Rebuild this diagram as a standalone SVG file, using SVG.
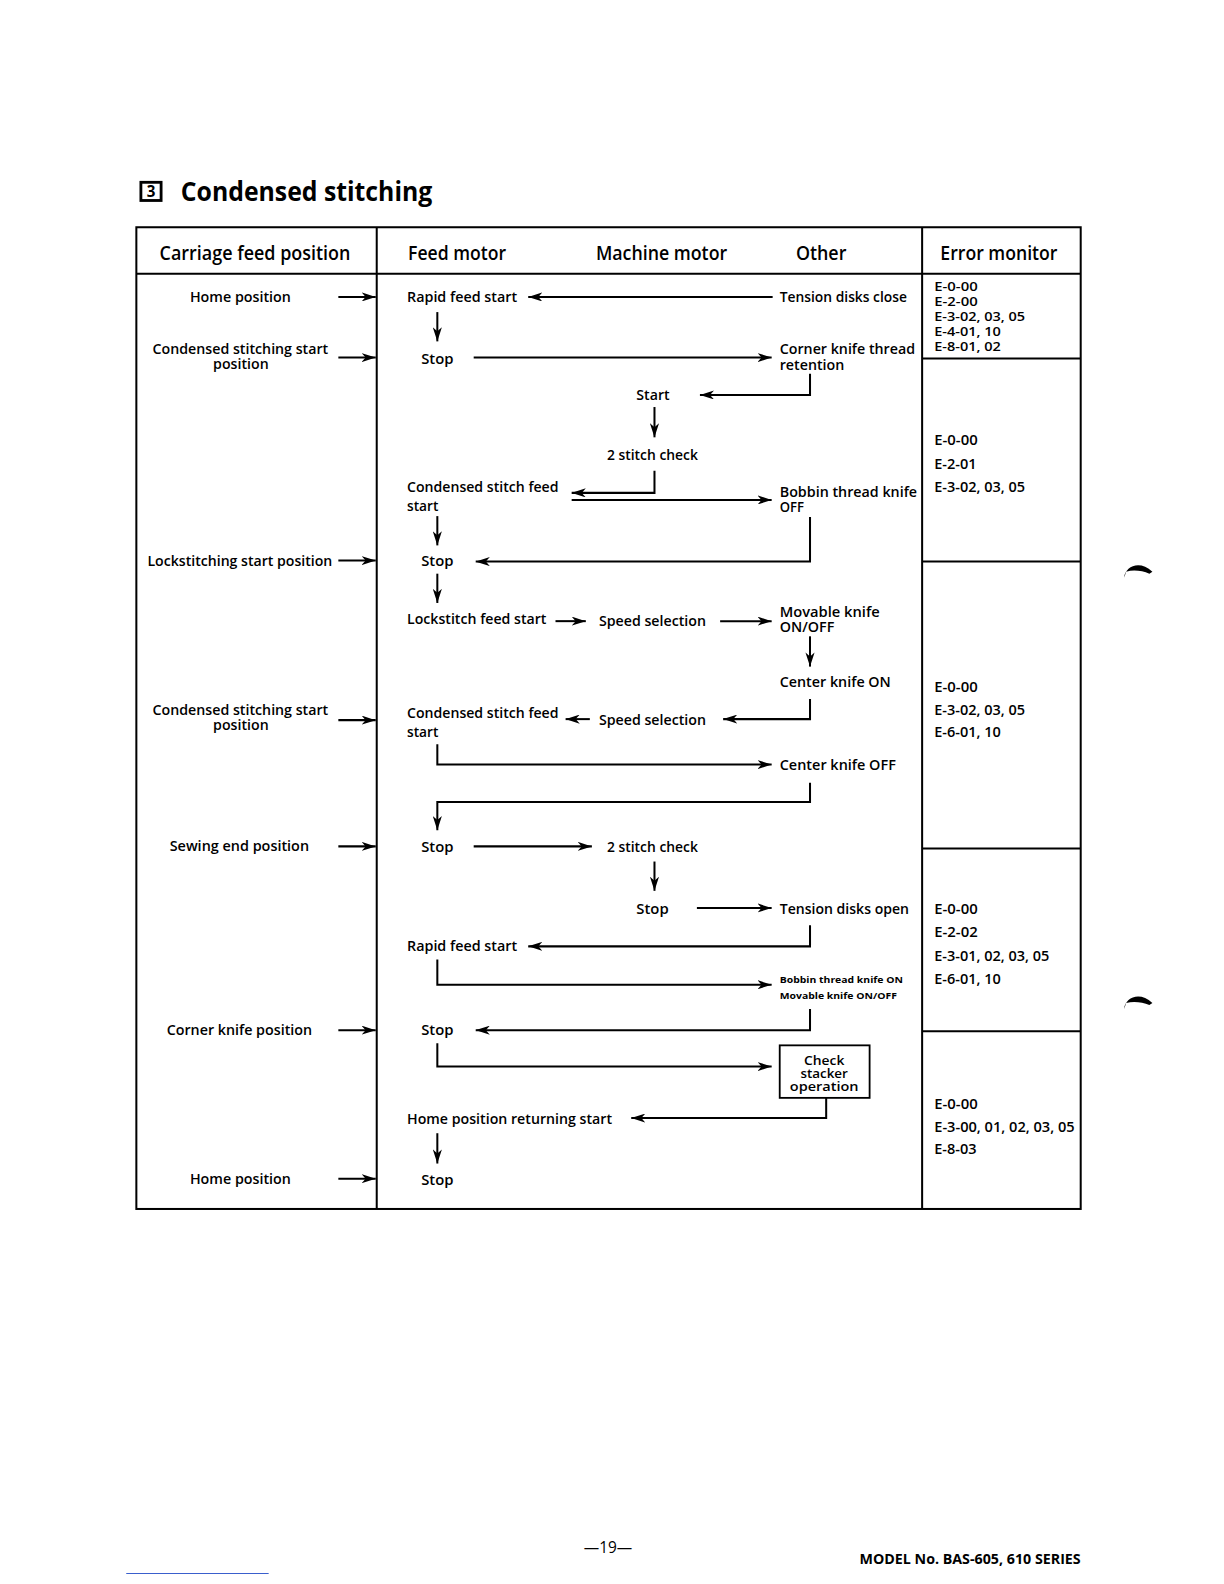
<svg xmlns="http://www.w3.org/2000/svg" width="1224" height="1584" viewBox="0 0 1224 1584">
<style>
text{font-family:"Open Sans","Liberation Sans",sans-serif;font-weight:600;fill:#000}
.h{font-size:19px}
.b{font-size:15px}
.m{font-size:13.5px}
.e{font-size:14px}
.e1{font-size:12.5px}
.k{font-size:12px}
.s{font-size:9.5px;font-weight:700}
.t{font-size:26px;font-weight:700}
.a{stroke:#000;stroke-width:2;fill:none;marker-end:url(#ah)}
.frame{stroke:#000;stroke-width:2;fill:none}
</style>
<defs>
<marker id="ah" viewBox="0 0 14 9" refX="14" refY="4.5" markerWidth="14" markerHeight="9" markerUnits="userSpaceOnUse" orient="auto"><path d="M0,0 L14,4.5 L0,9 L4,4.5 z" fill="#000"/></marker>
</defs>
<rect width="1224" height="1584" fill="#fff"/>
<g transform="scale(1.01)">
<g id="title">
<rect x="139.5" y="180.5" width="20" height="18" fill="none" stroke="#000" stroke-width="2.8"/>
<text x="149.5" y="195.5" text-anchor="middle" style="font-size:15px;font-weight:700">3</text>
<text class="t" x="179" y="199" textLength="249" lengthAdjust="spacingAndGlyphs">Condensed stitching</text>
</g>
<g id="table">
<rect class="frame" x="135" y="225" width="935" height="972"/>
<line class="frame" x1="135" y1="271" x2="1070" y2="271"/>
<line class="frame" x1="373" y1="225" x2="373" y2="1197"/>
<line class="frame" x1="913" y1="225" x2="913" y2="1197"/>
<line class="frame" x1="913" y1="355" x2="1070" y2="355"/>
<line class="frame" x1="913" y1="556" x2="1070" y2="556"/>
<line class="frame" x1="913" y1="840" x2="1070" y2="840"/>
<line class="frame" x1="913" y1="1021" x2="1070" y2="1021"/>
<text class="h" x="158" y="257" textLength="189" lengthAdjust="spacingAndGlyphs">Carriage feed position</text>
<text class="h" x="404" y="257" textLength="97" lengthAdjust="spacingAndGlyphs">Feed motor</text>
<text class="h" x="590" y="257" textLength="130" lengthAdjust="spacingAndGlyphs">Machine motor</text>
<text class="h" x="788" y="257" textLength="50" lengthAdjust="spacingAndGlyphs">Other</text>
<text class="h" x="931" y="257" textLength="116" lengthAdjust="spacingAndGlyphs">Error monitor</text>
</g>
<g id="carriage">
<text class="b" x="188" y="299" textLength="100" lengthAdjust="spacingAndGlyphs">Home position</text>
<text class="m" x="151" y="350" textLength="174" lengthAdjust="spacingAndGlyphs">Condensed stitching start</text>
<text class="m" x="211" y="365" textLength="55" lengthAdjust="spacingAndGlyphs">position</text>
<text class="b" x="146" y="560" textLength="183" lengthAdjust="spacingAndGlyphs">Lockstitching start position</text>
<text class="m" x="151" y="708" textLength="174" lengthAdjust="spacingAndGlyphs">Condensed stitching start</text>
<text class="m" x="211" y="723" textLength="55" lengthAdjust="spacingAndGlyphs">position</text>
<text class="b" x="168" y="843" textLength="138" lengthAdjust="spacingAndGlyphs">Sewing end position</text>
<text class="b" x="165" y="1025" textLength="144" lengthAdjust="spacingAndGlyphs">Corner knife position</text>
<text class="b" x="188" y="1172" textLength="100" lengthAdjust="spacingAndGlyphs">Home position</text>
</g>
<g id="flow">
<text class="b" x="403" y="299" textLength="109" lengthAdjust="spacingAndGlyphs">Rapid feed start</text>
<text class="b" x="772" y="299" textLength="126" lengthAdjust="spacingAndGlyphs">Tension disks close</text>
<text class="b" x="417" y="360" textLength="32" lengthAdjust="spacingAndGlyphs">Stop</text>
<text class="m" x="772" y="350" textLength="134" lengthAdjust="spacingAndGlyphs">Corner knife thread</text>
<text class="m" x="772" y="366" textLength="64" lengthAdjust="spacingAndGlyphs">retention</text>
<text class="b" x="630" y="396" textLength="33" lengthAdjust="spacingAndGlyphs">Start</text>
<text class="b" x="601" y="455" textLength="90" lengthAdjust="spacingAndGlyphs">2 stitch check</text>
<text class="b" x="403" y="487" textLength="150" lengthAdjust="spacingAndGlyphs">Condensed stitch feed</text>
<text class="b" x="403" y="506" textLength="31" lengthAdjust="spacingAndGlyphs">start</text>
<text class="m" x="772" y="492" textLength="136" lengthAdjust="spacingAndGlyphs">Bobbin thread knife</text>
<text class="m" x="772" y="507" textLength="24" lengthAdjust="spacingAndGlyphs">OFF</text>
<text class="b" x="417" y="560" textLength="32" lengthAdjust="spacingAndGlyphs">Stop</text>
<text class="b" x="403" y="618" textLength="138" lengthAdjust="spacingAndGlyphs">Lockstitch feed start</text>
<text class="b" x="593" y="620" textLength="106" lengthAdjust="spacingAndGlyphs">Speed selection</text>
<text class="m" x="772" y="611" textLength="99" lengthAdjust="spacingAndGlyphs">Movable knife</text>
<text class="m" x="772" y="626" textLength="54" lengthAdjust="spacingAndGlyphs">ON/OFF</text>
<text class="b" x="772" y="680" textLength="110" lengthAdjust="spacingAndGlyphs">Center knife ON</text>
<text class="b" x="403" y="711" textLength="150" lengthAdjust="spacingAndGlyphs">Condensed stitch feed</text>
<text class="b" x="403" y="730" textLength="31" lengthAdjust="spacingAndGlyphs">start</text>
<text class="b" x="593" y="718" textLength="106" lengthAdjust="spacingAndGlyphs">Speed selection</text>
<text class="b" x="772" y="762" textLength="115" lengthAdjust="spacingAndGlyphs">Center knife OFF</text>
<text class="b" x="417" y="844" textLength="32" lengthAdjust="spacingAndGlyphs">Stop</text>
<text class="b" x="601" y="844" textLength="90" lengthAdjust="spacingAndGlyphs">2 stitch check</text>
<text class="b" x="630" y="905" textLength="32" lengthAdjust="spacingAndGlyphs">Stop</text>
<text class="b" x="772" y="905" textLength="128" lengthAdjust="spacingAndGlyphs">Tension disks open</text>
<text class="b" x="403" y="942" textLength="109" lengthAdjust="spacingAndGlyphs">Rapid feed start</text>
<text class="s" x="772" y="973" textLength="122" lengthAdjust="spacingAndGlyphs">Bobbin thread knife ON</text>
<text class="s" x="772" y="989" textLength="116" lengthAdjust="spacingAndGlyphs">Movable knife ON/OFF</text>
<text class="b" x="417" y="1025" textLength="32" lengthAdjust="spacingAndGlyphs">Stop</text>
<text class="b" x="403" y="1113" textLength="203" lengthAdjust="spacingAndGlyphs">Home position returning start</text>
<text class="b" x="417" y="1173" textLength="32" lengthAdjust="spacingAndGlyphs">Stop</text>
</g>
<g id="stacker">
<rect x="772" y="1035" width="89" height="52" fill="none" stroke="#000" stroke-width="1.8"/>
<text class="k" x="816" y="1054" text-anchor="middle" textLength="40" lengthAdjust="spacingAndGlyphs">Check</text>
<text class="k" x="816" y="1067" text-anchor="middle" textLength="47" lengthAdjust="spacingAndGlyphs">stacker</text>
<text class="k" x="816" y="1080" text-anchor="middle" textLength="68" lengthAdjust="spacingAndGlyphs">operation</text>
</g>
<g id="errors">
<text class="e1" x="925" y="288" textLength="43" lengthAdjust="spacingAndGlyphs">E-0-00</text>
<text class="e1" x="925" y="303" textLength="43" lengthAdjust="spacingAndGlyphs">E-2-00</text>
<text class="e1" x="925" y="318" textLength="90" lengthAdjust="spacingAndGlyphs">E-3-02, 03, 05</text>
<text class="e1" x="925" y="333" textLength="66" lengthAdjust="spacingAndGlyphs">E-4-01, 10</text>
<text class="e1" x="925" y="348" textLength="66" lengthAdjust="spacingAndGlyphs">E-8-01, 02</text>
<text class="e" x="925" y="441" textLength="43" lengthAdjust="spacingAndGlyphs">E-0-00</text>
<text class="e" x="925" y="464" textLength="42" lengthAdjust="spacingAndGlyphs">E-2-01</text>
<text class="e" x="925" y="487" textLength="90" lengthAdjust="spacingAndGlyphs">E-3-02, 03, 05</text>
<text class="e" x="925" y="685" textLength="43" lengthAdjust="spacingAndGlyphs">E-0-00</text>
<text class="e" x="925" y="708" textLength="90" lengthAdjust="spacingAndGlyphs">E-3-02, 03, 05</text>
<text class="e" x="925" y="730" textLength="66" lengthAdjust="spacingAndGlyphs">E-6-01, 10</text>
<text class="e" x="925" y="905" textLength="43" lengthAdjust="spacingAndGlyphs">E-0-00</text>
<text class="e" x="925" y="928" textLength="43" lengthAdjust="spacingAndGlyphs">E-2-02</text>
<text class="e" x="925" y="951" textLength="114" lengthAdjust="spacingAndGlyphs">E-3-01, 02, 03, 05</text>
<text class="e" x="925" y="974" textLength="66" lengthAdjust="spacingAndGlyphs">E-6-01, 10</text>
<text class="e" x="925" y="1098" textLength="43" lengthAdjust="spacingAndGlyphs">E-0-00</text>
<text class="e" x="925" y="1121" textLength="139" lengthAdjust="spacingAndGlyphs">E-3-00, 01, 02, 03, 05</text>
<text class="e" x="925" y="1143" textLength="42" lengthAdjust="spacingAndGlyphs">E-8-03</text>
</g>
<g id="connectors">
<line class="a" x1="335" y1="294" x2="372" y2="294"/>
<line class="a" x1="335" y1="354" x2="372" y2="354"/>
<line class="a" x1="335" y1="555" x2="372" y2="555"/>
<line class="a" x1="335" y1="713" x2="372" y2="713"/>
<line class="a" x1="335" y1="838" x2="372" y2="838"/>
<line class="a" x1="335" y1="1020" x2="372" y2="1020"/>
<line class="a" x1="335" y1="1167" x2="372" y2="1167"/>
<line class="a" x1="765" y1="294" x2="523" y2="294"/>
<line class="a" x1="433" y1="309" x2="433" y2="338"/>
<line class="a" x1="469" y1="354" x2="764" y2="354"/>
<polyline class="a" points="802,370 802,391 693,391"/>
<line class="a" x1="648" y1="403" x2="648" y2="433"/>
<polyline class="a" points="648,466 648,488 566,488"/>
<line class="a" x1="566" y1="495" x2="764" y2="495"/>
<line class="a" x1="433" y1="511" x2="433" y2="540"/>
<polyline class="a" points="802,512 802,556 471,556"/>
<line class="a" x1="433" y1="568" x2="433" y2="597"/>
<line class="a" x1="550" y1="615" x2="580" y2="615"/>
<line class="a" x1="713" y1="615" x2="764" y2="615"/>
<line class="a" x1="802" y1="630" x2="802" y2="660"/>
<polyline class="a" points="802,692 802,712 716,712"/>
<line class="a" x1="584" y1="712" x2="560" y2="712"/>
<polyline class="a" points="433,737 433,757 764,757"/>
<polyline class="a" points="802,775 802,794 433,794 433,822"/>
<line class="a" x1="469" y1="838" x2="586" y2="838"/>
<line class="a" x1="648" y1="853" x2="648" y2="882"/>
<line class="a" x1="690" y1="899" x2="764" y2="899"/>
<polyline class="a" points="802,916 802,937 523,937"/>
<polyline class="a" points="433,950 433,975 764,975"/>
<polyline class="a" points="802,999 802,1020 471,1020"/>
<polyline class="a" points="433,1033 433,1056 764,1056"/>
<polyline class="a" points="818,1087 818,1107 625,1107"/>
<line class="a" x1="433" y1="1122" x2="433" y2="1152"/>
</g>
<g id="footer">
<text x="602" y="1538" text-anchor="middle" style="font-size:17px;font-weight:400" textLength="48" lengthAdjust="spacingAndGlyphs">—19—</text>
<text x="851" y="1549" style="font-size:14px;font-weight:700" textLength="219" lengthAdjust="spacingAndGlyphs">MODEL No. BAS-605, 610 SERIES</text>
<line x1="125" y1="1558" x2="266" y2="1558" stroke="#3a5fcd" stroke-width="1"/>
</g>
<g id="marks" fill="#000">
<path d="M1113,572 C1114,561 1128,554 1141,566 L1138,568 C1131,565 1122,564 1115,566 z"/>
<path d="M1113,999 C1114,988 1128,981 1141,993 L1138,995 C1131,992 1122,991 1115,993 z"/>
</g>
</g>
</svg>
